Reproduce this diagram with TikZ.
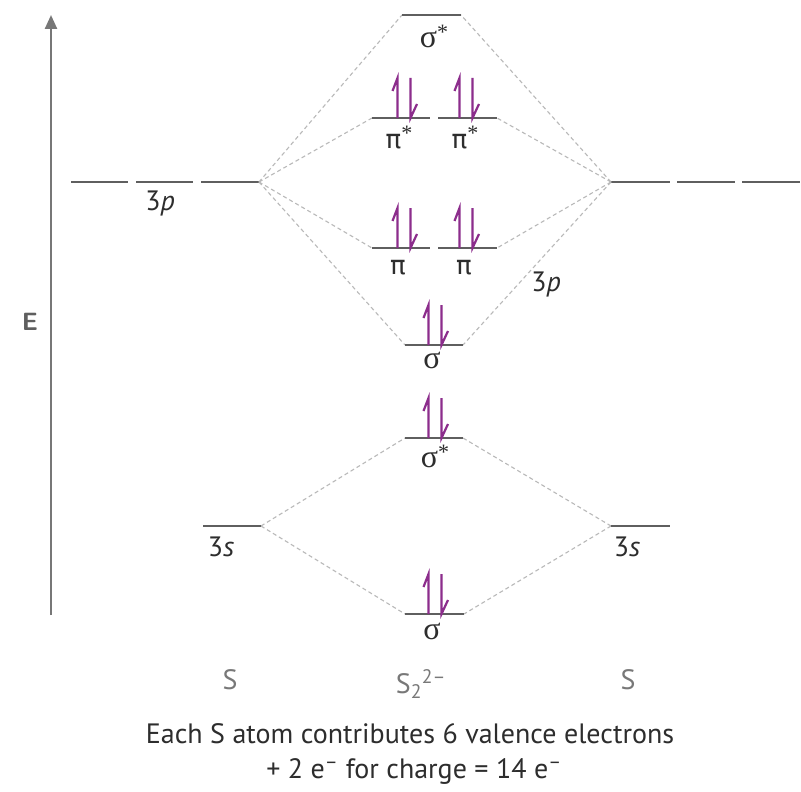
\documentclass[tikz,border=0pt]{standalone}
\usepackage{fontspec}
\setmainfont{PT Sans}
\newfontfamily\grk{Liberation Serif}
\newfontfamily\grks{DejaVu Sans}
\usetikzlibrary{arrows.meta}
\definecolor{lvl}{RGB}{95,95,95}
\definecolor{dsh}{RGB}{185,185,185}
\definecolor{elec}{RGB}{140,45,140}
\definecolor{txt}{RGB}{45,45,45}
\definecolor{lbl}{RGB}{120,120,120}
\tikzset{
  level/.style={draw=lvl,line width=2.2pt},
  corr/.style={draw=dsh,line width=1.1pt,dash pattern=on 4pt off 3pt},
  lab/.style={text=txt,font=\fontsize{28}{30}\selectfont,inner sep=0pt},
  atomlab/.style={text=lbl,font=\fontsize{28}{30}\selectfont,inner sep=0pt},
  elecline/.style={draw=elec,line width=2.2pt},
}
\newcommand{\epair}[2]{%
  \draw[elecline] (#1-6.5,#2) -- (#1-6.5,#2-40) -- (#1-11.5,#2-27);
  \draw[elecline] (#1+6.5,#2-40) -- (#1+6.5,#2) -- (#1+13,#2-14);
}
\newcommand{\sg}{{\grk\fontsize{32}{34}\selectfont σ}}
\newcommand{\pii}{{\grks\fontsize{26}{28}\selectfont π}}
\newcommand{\str}{\raisebox{8pt}{\grk\fontsize{22}{22}\selectfont *}}
\begin{document}
\begin{tikzpicture}[x=1pt,y=-1pt]
\useasboundingbox[fill=white] (0,0) rectangle (801,792);
% axis
\coordinate (ax0) at (51,615);
\coordinate (ax1) at (51,15);
\draw[draw=lvl!85,line width=2.4pt,-{Triangle[length=14pt,width=12pt]}] (ax0) -- (ax1);
\node[text=lvl,font=\sffamily\bfseries\fontsize{25}{27}\selectfont,inner sep=0pt] (E) at (30,322) {E};
% left 3p
\coordinate (Lp1a) at (71,182); \coordinate (Lp1b) at (128,182);
\coordinate (Lp2a) at (136,182); \coordinate (Lp2b) at (193,182);
\coordinate (Lp3a) at (201,182); \coordinate (Lp) at (259,182);
\draw[level] (Lp1a) -- (Lp1b); \draw[level] (Lp2a) -- (Lp2b); \draw[level] (Lp3a) -- (Lp);
\node[lab] (L3p) at (160,203) {3\textit{p}};
% right 3p
\coordinate (Rp) at (611,182); \coordinate (Rp1b) at (670,182);
\coordinate (Rp2a) at (677,182); \coordinate (Rp2b) at (735,182);
\coordinate (Rp3a) at (742,182); \coordinate (Rp3b) at (800,182);
\draw[level] (Rp) -- (Rp1b); \draw[level] (Rp2a) -- (Rp2b); \draw[level] (Rp3a) -- (Rp3b);
\node[lab] (R3p) at (546,284) {3\textit{p}};
% MOs
\coordinate (ssa) at (402,15); \coordinate (ssb) at (461,15);
\coordinate (pis1a) at (372,118); \coordinate (pis1b) at (430,118);
\coordinate (pis2a) at (438,118); \coordinate (pis2b) at (497,118);
\coordinate (pi1a) at (372,248); \coordinate (pi1b) at (430,248);
\coordinate (pi2a) at (438,248); \coordinate (pi2b) at (497,248);
\coordinate (spa) at (405,345); \coordinate (spb) at (463,345);
\coordinate (s3sa) at (405,438); \coordinate (s3sb) at (463,438);
\coordinate (sba) at (405,614); \coordinate (sbb) at (464,614);
\coordinate (Ls) at (261,526); \coordinate (Lsa) at (203,526);
\coordinate (Rs) at (611,526); \coordinate (Rsb) at (670,526);
% correlation lines
\draw[corr] (Lp) -- (ssa); \draw[corr] (Lp) -- (pis1a); \draw[corr] (Lp) -- (pi1a); \draw[corr] (Lp) -- (spa);
\draw[corr] (Rp) -- (ssb); \draw[corr] (Rp) -- (pis2b); \draw[corr] (Rp) -- (pi2b); \draw[corr] (Rp) -- (spb);
\draw[corr] (Ls) -- (s3sa); \draw[corr] (Ls) -- (sba);
\draw[corr] (Rs) -- (s3sb); \draw[corr] (Rs) -- (sbb);
% levels
\foreach \a/\b in {ssa/ssb,pis1a/pis1b,pis2a/pis2b,pi1a/pi1b,pi2a/pi2b,spa/spb,s3sa/s3sb,sba/sbb,Lsa/Ls,Rs/Rsb}
  \draw[level] (\a) -- (\b);
% electrons
\epair{404}{118}
\epair{466}{118}
\epair{404}{248}
\epair{466}{248}
\epair{435}{345}
\epair{435}{438}
\epair{435}{614}
% labels
\node[lab] (lss) at (434,36) {\sg\str};
\node[lab] (lpis1) at (399,138) {\pii\str};
\node[lab] (lpis2) at (465,138) {\pii\str};
\node[lab] (lpi1) at (398,268) {\pii};
\node[lab] (lpi2) at (464,268) {\pii};
\node[lab] (lsp) at (432,360) {\sg};
\node[lab] (ls3s) at (435,456) {\sg\str};
\node[lab] (lsb) at (432,631) {\sg};
\node[lab] (L3s) at (221,547) {3\textit{s}};
\node[lab] (R3s) at (627,547) {3\textit{s}};
% bottom
\node[atomlab] (SL) at (230,680) {S};
\node[atomlab] (S2) at (421,684) {S\textsubscript{2}\raisebox{1pt}{\textsuperscript{2\textendash}}};
\node[atomlab] (SR) at (628,680) {S};
\node[text=txt,font=\fontsize{28}{30}\selectfont,inner sep=0pt,anchor=base] (t1) at (410,743) {Each S atom contributes 6 valence electrons};
\node[text=txt,font=\fontsize{28}{30}\selectfont,inner sep=0pt,anchor=base] (t2) at (414,778) {+ 2 e\textsuperscript{\textendash} for charge = 14 e\textsuperscript{\textendash}};
\end{tikzpicture}
\end{document}
